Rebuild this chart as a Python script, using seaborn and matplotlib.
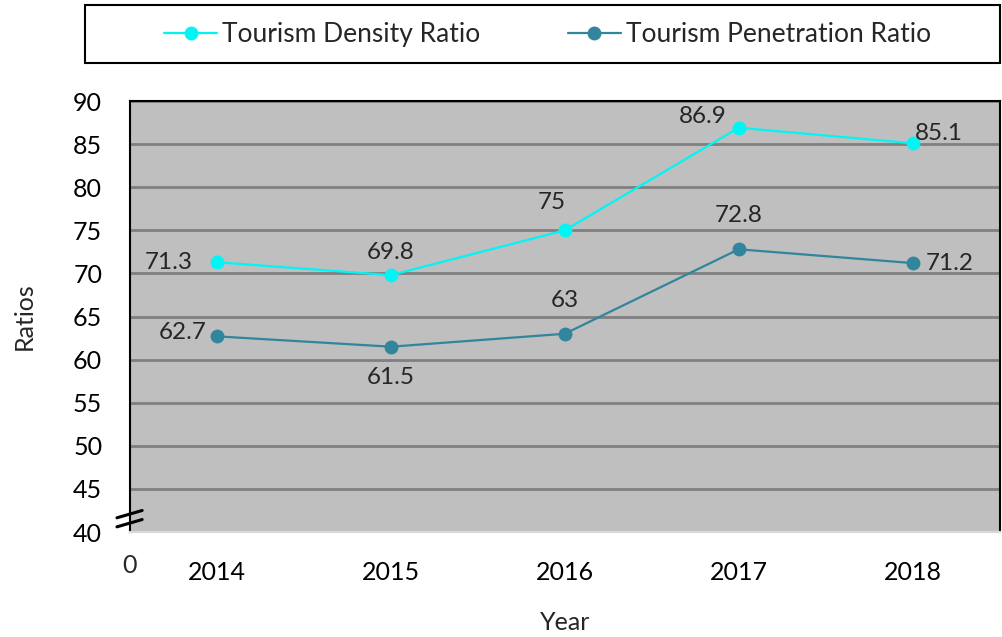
import seaborn as sns
import matplotlib.pyplot as plt
import pandas as pd
from matplotlib.patches import Rectangle

years = ["2014", "2015", "2016", "2017", "2018"]
density = [71.3, 69.8, 75.0, 86.9, 85.1]
penetration = [62.7, 61.5, 63.0, 72.8, 71.2]
density_labels = ["71.3", "69.8", "75", "86.9", "85.1"]
penetration_labels = ["62.7", "61.5", "63", "72.8", "71.2"]
y_ticks = [40, 45, 50, 55, 60, 65, 70, 75, 80, 85, 90]

sns.set_theme(style="white")
plt.rcParams["font.family"] = ["Lato", "DejaVu Sans"]

df = pd.DataFrame({
    "Year": years * 2,
    "Ratio": density + penetration,
    "Series": ["Tourism Density Ratio"] * 5 + ["Tourism Penetration Ratio"] * 5,
})
colors = {"Tourism Density Ratio": "#00F5F5", "Tourism Penetration Ratio": "#31859C"}

fig = plt.figure(figsize=(10.03, 6.37), dpi=100)
ax = fig.add_axes([0.1296, 0.1648, 0.867, 0.6766])
ax.set_facecolor("#BFBFBF")

sns.lineplot(data=df, x="Year", y="Ratio", hue="Series", palette=colors,
             marker="o", markersize=10, markeredgewidth=0, linewidth=1.6,
             ax=ax, legend=True)

ax.set_xlim(-0.5, 4.5)
ax.set_ylim(40, 90)
ax.set_yticks(y_ticks)
ax.tick_params(axis="both", labelsize=18, length=0, colors="black")
ax.tick_params(axis="y", pad=20)
ax.tick_params(axis="x", pad=21)
ax.grid(axis="y", color="#808080", linewidth=2)
ax.set_axisbelow(True)
ax.set_xlabel("Year", fontsize=18, labelpad=19)
ax.set_ylabel("Ratios", fontsize=18, labelpad=27)

for side in ["left", "top", "right"]:
    ax.spines[side].set_color("black")
    ax.spines[side].set_linewidth(1.5)
ax.spines["bottom"].set_color("#D9D9D9")
ax.spines["bottom"].set_linewidth(1.5)

# data labels
d_off = [(-35, 0), (0, 16), (-9, 20), (-26, 8), (19, 7)]
p_off = [(-25, 3), (0, -22), (0, 24), (0, 24), (27, 0)]
for i in range(len(years)):
    ax.annotate(density_labels[i], (i, density[i]), xytext=d_off[i],
                textcoords="offset points", ha="center", va="center", fontsize=17.5)
    ax.annotate(penetration_labels[i], (i, penetration[i]), xytext=p_off[i],
                textcoords="offset points", ha="center", va="center", fontsize=17.5)

# "0" at the origin and axis break marks
ax.text(0, -0.077, "0", transform=ax.transAxes, ha="center", va="center", fontsize=18)
for y0 in [0.033, 0.012]:
    ax.plot([-0.015, 0.014], [y0, y0 + 0.017], transform=ax.transAxes,
            color="black", linewidth=2.2, clip_on=False)

# legend in a box across the top
handles, labels = ax.get_legend_handles_labels()
ax.get_legend().remove()
fig.patches.append(Rectangle((0.085, 0.901), 0.912, 0.091, transform=fig.transFigure,
                             fill=False, edgecolor="black", linewidth=1.5))
fig.legend(handles, labels, loc="center", bbox_to_anchor=(0.546, 0.946), ncol=2,
           frameon=False, fontsize=19, handlelength=2.0, handletextpad=0.2,
           columnspacing=3.3)

fig.savefig("out.png", dpi=100)
